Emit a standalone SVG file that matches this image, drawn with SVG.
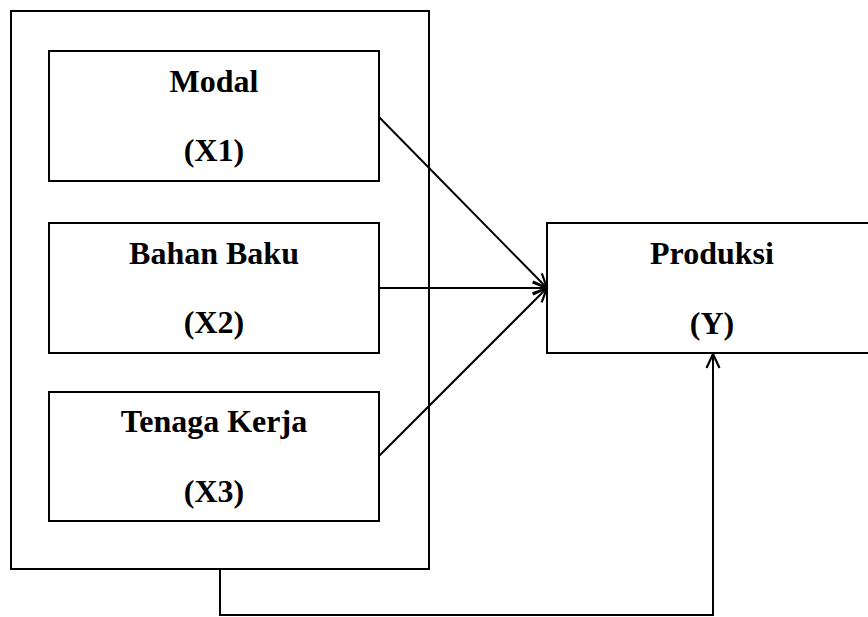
<svg xmlns="http://www.w3.org/2000/svg" width="868" height="617" viewBox="0 0 868 617">
<style>
.box{fill:#fff;stroke:#000;stroke-width:2}
.t{font-family:"Liberation Serif","Times New Roman",serif;font-weight:bold;font-size:32px;text-anchor:middle;fill:#000}
.c{fill:none;stroke:#000;stroke-width:2}
</style>
<defs>
<marker id="ah" viewBox="0 0 16 16" refX="15" refY="8" markerWidth="16" markerHeight="16" markerUnits="userSpaceOnUse" orient="auto">
<path d="M1,1.5 L15,8 L1,14.5" fill="none" stroke="#000" stroke-width="2.2"/>
</marker>
</defs>
<g id="group">
<rect class="box" x="11" y="11" width="418" height="558"/>
</g>
<g id="modal">
<rect class="box" x="49" y="51" width="330" height="130"/>
<text class="t" x="214" y="92">Modal</text>
<text class="t" x="214" y="161">(X1)</text>
</g>
<g id="bahan">
<rect class="box" x="49" y="223" width="330" height="130"/>
<text class="t" x="214" y="264">Bahan Baku</text>
<text class="t" x="214" y="333">(X2)</text>
</g>
<g id="tenaga">
<rect class="box" x="49" y="392" width="330" height="129"/>
<text class="t" x="214" y="432">Tenaga Kerja</text>
<text class="t" x="214" y="502">(X3)</text>
</g>
<g id="produksi">
<rect class="box" x="547" y="223" width="340" height="130"/>
<text class="t" x="712" y="264">Produksi</text>
<text class="t" x="712" y="334">(Y)</text>
</g>
<g id="connectors">
<line class="c" x1="379" y1="117" x2="547" y2="288" marker-end="url(#ah)"/>
<line class="c" x1="379" y1="288" x2="547" y2="288" marker-end="url(#ah)"/>
<line class="c" x1="379" y1="456" x2="547" y2="288" marker-end="url(#ah)"/>
<polyline class="c" points="220,569 220,615 713,615 713,354" marker-end="url(#ah)"/>
</g>
</svg>
